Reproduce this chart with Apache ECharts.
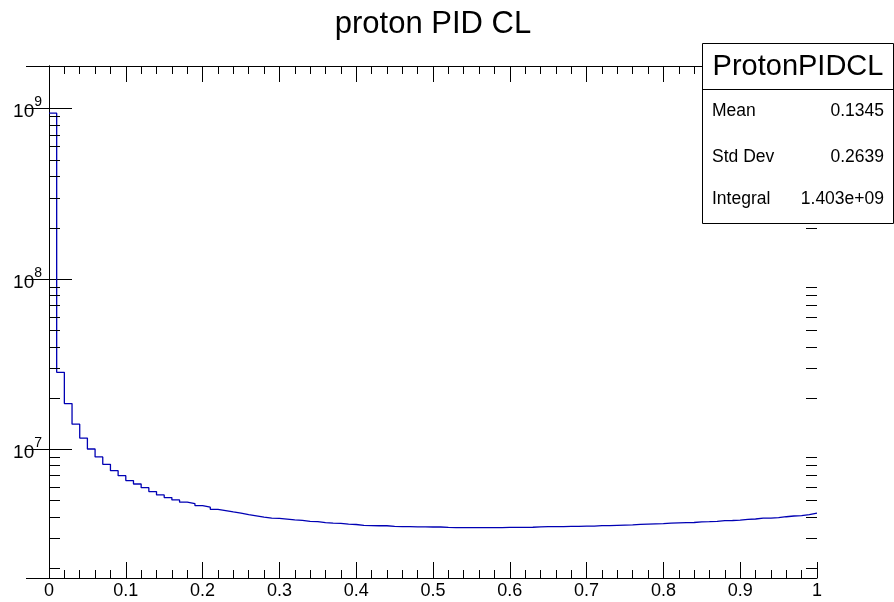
<!DOCTYPE html>
<html><head><meta charset="utf-8">
<script src="https://cdn.jsdelivr.net/npm/echarts@6/dist/echarts.min.js"></script>
<style>html,body{margin:0;padding:0;background:#fff}#c{width:894px;height:602px}</style>
</head><body><div id="c"></div>
<script>
const titleText = 'proton PID CL';
const binWidth = 0.01;
const counts = [
  9.4e8, 2.82e7, 1.85e7, 1.40e7, 1.16e7, 1.00e7, 8.98e6, 8.13e6, 7.46e6, 6.97e6,
  6.52e6, 6.23e6, 5.93e6, 5.62e6, 5.37e6, 5.18e6, 5.02e6, 4.87e6, 4.78e6, 4.65e6,
  4.55e6, 4.42e6, 4.35e6, 4.27e6, 4.20e6, 4.12e6, 4.05e6, 3.98e6, 3.93e6, 3.91e6,
  3.87e6, 3.83e6, 3.81e6, 3.76e6, 3.74e6, 3.69e6, 3.67e6, 3.66e6, 3.62e6, 3.60e6,
  3.56e6, 3.55e6, 3.54e6, 3.54e6, 3.51e6, 3.50e6, 3.50e6, 3.49e6, 3.49e6, 3.48e6,
  3.48e6, 3.46e6, 3.45e6, 3.45e6, 3.45e6, 3.45e6, 3.45e6, 3.45e6, 3.45e6, 3.46e6,
  3.46e6, 3.46e6, 3.47e6, 3.49e6, 3.50e6, 3.50e6, 3.50e6, 3.51e6, 3.51e6, 3.52e6,
  3.52e6, 3.55e6, 3.55e6, 3.56e6, 3.57e6, 3.58e6, 3.61e6, 3.62e6, 3.63e6, 3.64e6,
  3.67e6, 3.68e6, 3.69e6, 3.70e6, 3.73e6, 3.74e6, 3.76e6, 3.79e6, 3.80e6, 3.82e6,
  3.86e6, 3.88e6, 3.92e6, 3.93e6, 3.95e6, 4.00e6, 4.04e6, 4.06e6, 4.12e6, 4.20e6
];
const xRange = [0, 1];
const xInterval = 0.1;
const yRange = [1.746e6, 1.78e9];
const yMinorTicks = [2e6,3e6,4e6,5e6,6e6,7e6,8e6,9e6,2e7,3e7,4e7,5e7,6e7,7e7,8e7,9e7,2e8,3e8,4e8,5e8,6e8,7e8,8e8,9e8];
const statsName = 'ProtonPIDCL';
const statsLabels = ['Mean', 'Std Dev', 'Integral'];
const statsValues = ['0.1345', '0.2639', '1.403e+09'];

const FONT = 'Liberation Sans, Arial, Helvetica, sans-serif';
const lineColor = '#0000b4';

// histogram step points from bin edges
const histData = counts.map((v, i) => [i * binWidth, v]);
histData.push([counts.length * binWidth, counts[counts.length - 1]]);

function logLabel(v) {
  const e = Math.log10(v);
  const r = Math.round(e);
  if (Math.abs(e - r) > 1e-6) return '';
  return '{b|10}{s|' + r + '}';
}

const chart = echarts.init(document.getElementById('c'), null, {renderer: 'canvas'});
const axisLine = {show: true, lineStyle: {color: '#000', width: 1}};
const option = {
  animation: false,
  backgroundColor: '#fff',
  grid: {left: 49, right: 77, top: 66, bottom: 24, containLabel: false},
  xAxis: [
    {
      type: 'value', min: xRange[0], max: xRange[1], interval: xInterval, position: 'bottom',
      axisLine: axisLine, splitLine: {show: false},
      axisTick: {show: true, inside: true, length: 16, lineStyle: {color: '#000'}},
      minorTick: {show: true, splitNumber: 5, length: 8, lineStyle: {color: '#000'}},
      axisLabel: {show: true, margin: 4, fontSize: 18, color: '#000', fontFamily: FONT,
        formatter: v => String(Math.round(v * 10) / 10)}
    },
    {
      type: 'value', min: xRange[0], max: xRange[1], interval: xInterval, position: 'top',
      axisLine: axisLine, splitLine: {show: false},
      axisTick: {show: true, inside: true, length: 16, lineStyle: {color: '#000'}},
      minorTick: {show: true, splitNumber: 5, length: 8, lineStyle: {color: '#000'}},
      axisLabel: {show: false}
    }
  ],
  yAxis: [
    {
      type: 'log', logBase: 10, min: yRange[0], max: yRange[1], position: 'left',
      axisLine: axisLine, splitLine: {show: false},
      axisTick: {show: true, inside: true, length: 23, lineStyle: {color: '#000'}},
      minorTick: {show: false},
      axisLabel: {show: true, margin: 7, color: '#000', fontFamily: FONT, formatter: logLabel,
        rich: {
          b: {fontSize: 19, lineHeight: 26, verticalAlign: 'bottom', fontFamily: FONT, color: '#000'},
          s: {fontSize: 14, lineHeight: 16, verticalAlign: 'top', fontFamily: FONT, color: '#000'}
        }}
    },
    {
      type: 'log', logBase: 10, min: yRange[0], max: yRange[1], position: 'right',
      axisLine: axisLine, splitLine: {show: false},
      axisTick: {show: true, inside: true, length: 23, lineStyle: {color: '#000'}},
      minorTick: {show: false},
      axisLabel: {show: false}
    }
  ],
  series: [{
    type: 'line', step: 'end', data: histData, xAxisIndex: 0, yAxisIndex: 0,
    showSymbol: false, symbol: 'none', clip: true,
    lineStyle: {color: lineColor, width: 1.3},
    emphasis: {disabled: true}
  }]
};
chart.setOption(option);

// minor log ticks positioned via the axis scale
const gridRect = {left: 49, right: 894 - 77};
const minorLen = 11;
const graphics = [];
yMinorTicks.forEach(v => {
  if (v < yRange[0] || v > yRange[1]) return;
  const py = Math.round(chart.convertToPixel({yAxisIndex: 0}, v)) + 0.5;
  graphics.push({type: 'line', shape: {x1: gridRect.left, y1: py, x2: gridRect.left + minorLen, y2: py},
    style: {stroke: '#000', lineWidth: 1}, silent: true, z: 5});
  graphics.push({type: 'line', shape: {x1: gridRect.right - minorLen, y1: py, x2: gridRect.right, y2: py},
    style: {stroke: '#000', lineWidth: 1}, silent: true, z: 5});
});

// title
graphics.push({type: 'text', x: 433, y: 24, silent: true, z: 10,
  style: {text: titleText, fontSize: 31, fontFamily: FONT, fill: '#000', align: 'center', verticalAlign: 'middle'}});

// stats box
const box = {x: 702.5, y: 43.5, w: 191, h: 180, header: 89.5};
graphics.push({type: 'rect', shape: {x: box.x, y: box.y, width: box.w, height: box.h},
  style: {fill: '#fff', stroke: '#000', lineWidth: 1}, silent: true, z: 20});
graphics.push({type: 'line', shape: {x1: box.x, y1: box.header, x2: box.x + box.w, y2: box.header},
  style: {stroke: '#000', lineWidth: 1}, silent: true, z: 21});
graphics.push({type: 'text', x: box.x + box.w / 2, y: 66.5, silent: true, z: 22,
  style: {text: statsName, fontSize: 29, fontFamily: FONT, fill: '#000', align: 'center', verticalAlign: 'middle'}});
const rowY = [111.5, 157, 199];
statsLabels.forEach((lab, i) => {
  graphics.push({type: 'text', x: 712, y: rowY[i], silent: true, z: 22,
    style: {text: lab, fontSize: 17.5, fontFamily: FONT, fill: '#000', align: 'left', verticalAlign: 'middle'}});
  graphics.push({type: 'text', x: 884, y: rowY[i], silent: true, z: 22,
    style: {text: statsValues[i], fontSize: 17.5, fontFamily: FONT, fill: '#000', align: 'right', verticalAlign: 'middle'}});
});
chart.setOption({graphic: graphics});
</script>
</body></html>
